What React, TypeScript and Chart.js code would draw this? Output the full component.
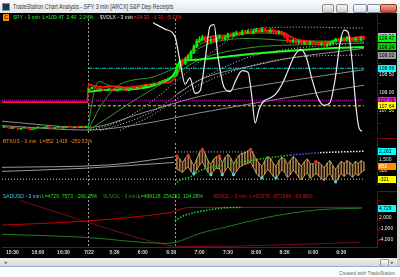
import React, { useEffect, useRef } from 'react';
import { Chart, registerables } from 'chart.js';
Chart.register(...registerables);

const FONT = '"Liberation Sans", Arial, sans-serif';

// ---------- x axis (bar index) ----------
const X_MIN = 0.3;
const X_MAX = 132.6;
const X_TICKS = [4, 13, 22, 31, 40, 50, 60, 70, 80, 90, 100, 110, 120];
const X_LABELS = ['15:30', '16:00', '16:30', '7/22', '5:30', '6:00', '6:30', '7:00', '7:30', '8:00', '8:30', '9:00', '9:30'];
const SESSION_BREAKS = [30.6, 61.3];

// ---------- SPY candles ----------
const PREDAY_START = 1;
const PREDAY_OPEN = [107.05, 107.08, 107.05, 107.02, 107.06, 107.04, 107.0, 107.03, 107.05, 107.02, 106.99, 107.01, 107.04, 107.06, 107.03, 107.05, 107.07, 107.04, 107.02, 107.05, 107.06, 107.03, 107.05, 107.07, 107.06, 107.04, 107.07, 107.05, 107.08, 107.06];
const PREDAY_CLOSE = [107.08, 107.05, 107.02, 107.06, 107.04, 107.0, 107.03, 107.05, 107.02, 106.99, 107.01, 107.04, 107.06, 107.03, 107.05, 107.07, 107.04, 107.02, 107.05, 107.06, 107.03, 107.05, 107.07, 107.06, 107.04, 107.07, 107.05, 107.08, 107.06, 107.07];
const PRE_START = 31;
const PRE_OPEN = [108.02, 108.1, 108.15, 108.12, 108.08, 108.1, 108.05, 108.08, 108.1, 108.06, 108.04, 108.08, 108.1, 108.07, 108.05, 108.09, 108.12, 108.1, 108.14, 108.12, 108.16, 108.2, 108.18, 108.22, 108.26, 108.24, 108.3, 108.33, 108.36, 108.4, 108.43];
const PRE_CLOSE = [108.1, 108.15, 108.12, 108.08, 108.1, 108.05, 108.08, 108.1, 108.06, 108.04, 108.08, 108.1, 108.07, 108.05, 108.09, 108.12, 108.1, 108.14, 108.12, 108.16, 108.2, 108.18, 108.22, 108.26, 108.24, 108.3, 108.33, 108.36, 108.4, 108.43, 108.45];
const RTH_START = 62;
const RTH_OPEN = [108.5, 108.7, 108.86, 108.8, 108.9, 108.95, 109.1, 109.25, 109.4, 109.45, 109.5, 109.42, 109.38, 109.45, 109.4, 109.48, 109.52, 109.45, 109.5, 109.58, 109.55, 109.6, 109.62, 109.58, 109.65, 109.63, 109.66, 109.62, 109.68, 109.7, 109.66, 109.72, 109.68, 109.65, 109.7, 109.66, 109.62, 109.65, 109.6, 109.52, 109.4, 109.38, 109.42, 109.36, 109.38, 109.34, 109.36, 109.33, 109.37, 109.35, 109.32, 109.3, 109.33, 109.28, 109.31, 109.35, 109.4, 109.45, 109.42, 109.48, 109.44, 109.5, 109.46, 109.43, 109.47, 109.44, 109.49];
const RTH_HIGH = [108.78, 108.9, 108.92, 108.95, 109.02, 109.14, 109.3, 109.45, 109.52, 109.56, 109.54, 109.46, 109.49, 109.48, 109.52, 109.57, 109.55, 109.54, 109.62, 109.62, 109.64, 109.67, 109.65, 109.69, 109.68, 109.7, 109.69, 109.72, 109.75, 109.73, 109.77, 109.75, 109.71, 109.74, 109.73, 109.69, 109.68, 109.67, 109.63, 109.55, 109.44, 109.45, 109.45, 109.41, 109.41, 109.39, 109.39, 109.4, 109.4, 109.38, 109.35, 109.36, 109.35, 109.34, 109.38, 109.43, 109.48, 109.48, 109.51, 109.5, 109.53, 109.53, 109.49, 109.5, 109.5, 109.52, 109.53];
const RTH_LOW = [108.45, 108.66, 108.74, 108.76, 108.86, 108.92, 109.06, 109.22, 109.36, 109.41, 109.38, 109.33, 109.35, 109.36, 109.37, 109.45, 109.42, 109.42, 109.47, 109.51, 109.52, 109.57, 109.55, 109.56, 109.6, 109.6, 109.59, 109.6, 109.65, 109.63, 109.64, 109.65, 109.61, 109.62, 109.63, 109.58, 109.59, 109.56, 109.48, 109.36, 109.34, 109.35, 109.33, 109.33, 109.31, 109.31, 109.3, 109.3, 109.32, 109.29, 109.27, 109.27, 109.25, 109.25, 109.28, 109.32, 109.37, 109.39, 109.39, 109.41, 109.41, 109.43, 109.4, 109.4, 109.41, 109.41, 109.44];
const RTH_CLOSE = [108.7, 108.85, 108.8, 108.9, 108.95, 109.1, 109.25, 109.4, 109.45, 109.5, 109.42, 109.38, 109.45, 109.4, 109.48, 109.52, 109.45, 109.5, 109.58, 109.55, 109.6, 109.62, 109.58, 109.65, 109.63, 109.66, 109.62, 109.68, 109.7, 109.66, 109.72, 109.68, 109.65, 109.7, 109.66, 109.62, 109.65, 109.6, 109.52, 109.4, 109.38, 109.42, 109.36, 109.38, 109.34, 109.36, 109.33, 109.37, 109.35, 109.32, 109.3, 109.33, 109.28, 109.31, 109.35, 109.4, 109.45, 109.42, 109.48, 109.44, 109.5, 109.46, 109.43, 109.47, 109.44, 109.49, 109.47];

// ---------- SPY pane indicators ----------
const RED_X = [0.3, 30.4, 30.8, 33, 36, 40, 44, 48, 52, 56, 60, 62, 64, 67, 70, 74, 80, 88, 95, 100, 103, 108, 115, 120, 128];
const RED_Y = [107.74, 107.74, 108.22, 108.18, 108.15, 108.17, 108.14, 108.17, 108.22, 108.25, 108.3, 108.5, 108.8, 109.1, 109.4, 109.52, 109.56, 109.64, 109.68, 109.62, 109.48, 109.4, 109.36, 109.44, 109.53];
const GREEN_X = [31, 36, 42, 48, 52, 56, 59, 61, 63, 66, 70, 80, 90, 100, 110, 120, 128];
const GREEN_Y = [108.02, 108.07, 108.08, 108.1, 108.15, 108.25, 108.35, 108.5, 108.82, 108.88, 108.9, 108.98, 109.06, 109.12, 109.18, 109.22, 109.24];
const DG1_X = [30.6, 32, 33.5, 35, 37, 40, 45, 50, 55, 60, 62, 65, 70, 75, 80, 90, 100, 105, 110, 120, 128];
const DG1_Y = [106.97, 107.7, 108.2, 108.3, 108.22, 108.15, 108.12, 108.15, 108.25, 108.4, 108.6, 108.95, 109.3, 109.45, 109.52, 109.62, 109.58, 109.42, 109.36, 109.42, 109.46];
const DG2_X = [30.6, 34.9, 38.4, 41.9, 47.2, 52.5, 57.8, 62.4, 70.2, 87.8, 105.5, 128];
const DG2_Y = [106.97, 107.6, 107.98, 108.22, 108.35, 108.4, 108.55, 108.72, 109.22, 109.47, 109.4, 109.4];
const DG3_X = [30.6, 38.4, 45.5, 52.5, 57.8, 62.4, 70.2, 87.8, 105.5, 128];
const DG3_Y = [106.97, 107.35, 107.72, 108.05, 108.3, 108.55, 108.9, 109.22, 109.3, 109.35];
const WD1_X = [31.4, 41.9, 52.5, 62.4, 70.2, 80.8, 87.8, 105.5, 128];
const WD1_Y = [106.97, 107.22, 107.72, 108.35, 108.85, 109.45, 109.72, 109.78, 109.75];
const WD2_X = [34.9, 45.5, 56, 62.4, 70.2, 87.8, 105.5, 128];
const WD2_Y = [106.97, 107.22, 107.6, 107.97, 108.35, 108.97, 109.22, 109.35];
const WD3_X = [41.9, 52.5, 62.4, 70.2, 87.8, 105.5, 128];
const WD3_Y = [106.97, 107.35, 107.85, 108.22, 108.72, 108.97, 109.02];
const GR1_X = [0.3, 30.4, 50, 70.2, 100, 128];
const GR1_Y = [107.22, 107.05, 107.45, 107.9, 108.3, 108.62];
const GR2_X = [0.3, 30.4, 50, 70.2, 100, 128];
const GR2_Y = [107.1, 106.98, 107.15, 107.45, 107.85, 108.2];
const GR3_X = [62, 70.2, 90, 103, 128];
const GR3_Y = [107.95, 108.35, 108.75, 108.95, 109.2];
const LEVEL_VALUES = [108.66, 107.79, 107.64];
const LEVEL_FROM = [30.6, 0.3, 30.6];
const LEVEL_TO = 128;
const VDLX_X = [53.6, 57.8, 61.3, 63.1, 64.9, 66.6, 68.4, 70.2, 71.9, 73.7, 75.1, 76.5, 78.6, 80.8, 82.9, 85, 87.1, 88.5, 89.6, 91, 92.7, 94.9, 97, 99.1, 101.2, 103.3, 105.5, 107.6, 109.7, 111.8, 113.9, 116, 117.8, 119.6, 121, 122.4, 123.8, 125.2, 126.3, 127.3];
const VDLX_Y = [25.644, 25.566, 25.476, 25.174, 24.894, 24.972, 24.782, 24.815, 25.174, 25.6, 25.62, 25.23, 24.86, 24.804, 24.95, 25.06, 25.04, 24.726, 24.423, 24.59, 24.69, 24.726, 24.78, 24.894, 25.06, 25.23, 25.32, 25.23, 24.95, 24.726, 24.636, 24.67, 24.95, 25.4, 25.554, 25.53, 25.174, 24.614, 24.356, 24.322];

// ---------- TICK pane ----------
const TICK_START = 62;
const TICK_HI = [1830, 1530, 1230, 1600, 1900, 1380, 1000, 1530, 2130, 2430, 1980, 1380, 1080, 1530, 1750, 1830, 1230, 1680, 1980, 1600, 1150, 1530, 1900, 2050, 2130, 2280, 2430, 1980, 1530, 1150, 930, 1380, 1750, 1600, 1150, 930, 1380, 1680, 1530, 1080, 1380, 1750, 1530, 1150, 930, 1300, 1530, 1150, 1080, 1300, 1230, 1000, 780, 1150, 1380, 930, 630, 1000, 1300, 1150, 1380, 1230, 1000, 1300, 1150, 1380, 1230];
const TICK_LO = [630, 480, 330, 630, 780, 400, 180, 550, 1000, 1230, 780, 330, 100, 480, 700, 630, 100, 480, 780, 480, 100, 400, 780, 930, 1080, 1150, 1230, 780, 250, -50, -200, 180, 550, 330, -50, -200, 180, 550, 330, -120, 100, 480, 250, -120, -350, 30, 250, -200, -50, 180, 30, -270, -420, -50, 180, -270, -570, -200, 180, -50, 250, 100, -120, 180, 30, 330, 480];
const TICK_PEAKS = [62, 66, 71, 77, 88, 111];
const TICK_TROUGHS = [68, 74, 78, 82, 92, 97, 118];
const TICK_LAST = 852;
const TICK_LOW_LEVEL = -321;
const TICK_HIGH_LEVEL = 2200;
const TGA_X = [0.3, 38, 61];
const TGA_Y = [777, 1000, 1750];
const TGB_X = [0.3, 30, 61];
const TGB_Y = [402, 700, 1227];
const TREND_X = [62, 64, 66.6, 70.2, 79, 88.9, 102, 112.5, 128];
const TREND_Y = [-600, -300, -120, 480, 1000, 1450, 1900, 2130, 2261];

// ---------- breadth pane ----------
const SAD_X = [0.3, 30, 57.8, 61.3, 70.2, 80.8, 91.3, 102, 112.5, 127.3];
const SAD_Y = [-2600, -3500, -5170, -4910, -2350, -300, 1740, 3280, 4300, 4729];
const SDV_X = [0.3, 30, 57.8, 61.3, 65, 70, 127.3];
const SDV_Y = [-50, 1100, 3280, 3790, 4820, 4940, 4940];
const MAR_X = [6.65, 20.8, 57.1, 61.3, 70, 94.9, 126.6];
const MAR_Y = [6860, 3280, -5420, -5940, -6060, -5680, -4910];
const GDOT_X = [61.3, 62.4, 64.9, 70.2, 79, 85];
const GDOT_Y = [1230, 1740, 2770, 3790, 4820, 4940];

const last = (a: number[]) => a[a.length - 1];
const pts = (xs: number[], ys: number[]) => xs.map((x, k) => ({ x, y: ys[k] }));

type Marker = { value: number; label: string; bg: string; fg: string };

function overlay(markers: Marker[], opts: { bottomAxis?: boolean; topSep?: boolean }) {
  return {
    id: 'overlay',
    beforeDatasetsDraw(chart: any) {
      const { ctx, chartArea: a, scales } = chart;
      ctx.save();
      ctx.strokeStyle = '#9a9a9a';
      ctx.lineWidth = 1;
      ctx.setLineDash([2, 2]);
      SESSION_BREAKS.forEach((b) => {
        const x = Math.round(scales.x.getPixelForValue(b)) + 0.5;
        ctx.beginPath();
        ctx.moveTo(x, a.top);
        ctx.lineTo(x, a.bottom);
        ctx.stroke();
      });
      ctx.restore();
    },
    afterDraw(chart: any) {
      const { ctx, chartArea: a, scales, width } = chart;
      ctx.save();
      ctx.strokeStyle = '#8a0000';
      ctx.lineWidth = 1;
      const rx = Math.round(a.right) + 0.5;
      ctx.beginPath();
      ctx.moveTo(rx, 0);
      ctx.lineTo(rx, a.bottom + (opts.bottomAxis ? 1 : 0));
      ctx.stroke();
      for (let y = a.top + 4; y < a.bottom; y += 10) {
        const yy = Math.round(y) + 0.5;
        ctx.beginPath();
        ctx.moveTo(rx, yy);
        ctx.lineTo(rx + 3, yy);
        ctx.stroke();
      }
      if (opts.topSep) {
        ctx.beginPath();
        ctx.moveTo(rx, 0.5);
        ctx.lineTo(width, 0.5);
        ctx.stroke();
      }
      if (opts.bottomAxis) {
        ctx.strokeStyle = '#a00000';
        const by = Math.round(a.bottom) + 0.5;
        ctx.beginPath();
        ctx.moveTo(0, by);
        ctx.lineTo(rx, by);
        ctx.stroke();
      }
      ctx.font = `5px ${FONT}`;
      ctx.textBaseline = 'middle';
      ctx.textAlign = 'left';
      markers.forEach((m) => {
        const y = scales.y.getPixelForValue(m.value);
        ctx.fillStyle = m.bg;
        ctx.fillRect(a.right + 1, Math.round(y - 3.5), 18, 7);
        ctx.fillStyle = m.fg;
        ctx.fillText(m.label, a.right + 2, y + 0.5);
      });
      ctx.restore();
    },
  };
}

function xScale(showLabels: boolean) {
  return {
    type: 'linear',
    min: X_MIN,
    max: X_MAX,
    offset: false,
    grid: { display: false, drawTicks: false },
    border: { display: false },
    afterBuildTicks: (s: any) => {
      s.ticks = X_TICKS.map((v) => ({ value: v }));
    },
    afterFit: (s: any) => {
      s.height = showLabels ? 10 : 0;
    },
    ticks: {
      display: showLabels,
      color: '#d8d8d8',
      font: { size: 5, family: FONT, weight: 'bold' },
      padding: 3,
      maxRotation: 0,
      autoSkip: false,
      callback: (v: number) => {
        const k = X_TICKS.indexOf(v);
        return k >= 0 ? X_LABELS[k] : '';
      },
    },
  };
}

function yScale(min: number, max: number, ticks: number[], fmt: (v: number) => string) {
  return {
    type: 'linear',
    position: 'right',
    min,
    max,
    grid: { display: false, drawTicks: false },
    border: { display: false },
    afterBuildTicks: (s: any) => {
      s.ticks = ticks.map((v) => ({ value: v }));
    },
    afterFit: (s: any) => {
      s.width = 20;
    },
    ticks: { color: '#e8e8e8', font: { size: 5, family: FONT }, padding: 2, callback: fmt },
  };
}

const line = (data: any[], color: string, extra: any = {}) => ({
  type: 'line',
  data,
  borderColor: color,
  borderWidth: 1,
  pointRadius: 0,
  cubicInterpolationMode: 'monotone',
  ...extra,
});

const dots = (data: any[], color: string, order = 0) => ({
  type: 'line',
  data,
  showLine: false,
  pointRadius: 1.6,
  pointBorderWidth: 0,
  pointBackgroundColor: color,
  order,
});

const baseOptions = (scales: any) => ({
  responsive: false,
  animation: false,
  devicePixelRatio: 1,
  events: [],
  layout: { padding: 0, autoPadding: false },
  plugins: { legend: { display: false }, tooltip: { enabled: false } },
  scales,
});

function buildSpy(canvas: HTMLCanvasElement) {
  const bodies: any[] = [];
  const wicks: any[] = [];
  PREDAY_OPEN.forEach((o, k) => bodies.push({ x: PREDAY_START + k, y: [o, PREDAY_CLOSE[k]], up: PREDAY_CLOSE[k] >= o }));
  PRE_OPEN.forEach((o, k) => bodies.push({ x: PRE_START + k, y: [o, PRE_CLOSE[k]], up: PRE_CLOSE[k] >= o }));
  RTH_OPEN.forEach((o, k) => {
    const up = RTH_CLOSE[k] >= o;
    bodies.push({ x: RTH_START + k, y: [o, RTH_CLOSE[k]], up });
    wicks.push({ x: RTH_START + k, y: [RTH_LOW[k], RTH_HIGH[k]], up });
  });
  const candleColor = (ctx: any) => (ctx.raw && ctx.raw.up ? '#00f000' : '#ff1010');
  const levelColors = ['#00d8d8', '#c000c0', '#e8e800'];
  const levelDash = [[4, 1, 1, 1], [1, 1], [3, 2]];
  const levels = LEVEL_VALUES.map((v, k) =>
    line([{ x: LEVEL_FROM[k], y: v }, { x: LEVEL_TO, y: v }], levelColors[k], { borderDash: levelDash[k], order: 20 })
  );
  const markers: Marker[] = [
    { value: last(RED_Y), label: last(RED_Y).toFixed(2), bg: '#b8c8dc', fg: '#000' },
    { value: last(RTH_CLOSE), label: last(RTH_CLOSE).toFixed(2), bg: '#00ff00', fg: '#000' },
    { value: last(GREEN_Y), label: last(GREEN_Y).toFixed(2), bg: '#00d000', fg: '#000' },
    { value: last(WD3_Y), label: last(WD3_Y).toFixed(2), bg: '#9a9a9a', fg: '#000' },
    { value: LEVEL_VALUES[0], label: LEVEL_VALUES[0].toFixed(2), bg: '#00ffff', fg: '#000' },
    { value: LEVEL_VALUES[1], label: LEVEL_VALUES[1].toFixed(2), bg: '#ff00ff', fg: '#000' },
    { value: LEVEL_VALUES[2], label: LEVEL_VALUES[2].toFixed(2), bg: '#ffff00', fg: '#000' },
  ];
  return new Chart(canvas, {
    type: 'line',
    data: {
      datasets: [
        line(pts(VDLX_X, VDLX_Y), '#ececec', { yAxisID: 'yv', order: 1, borderWidth: 1.2 }),
        { type: 'bar', data: bodies, backgroundColor: candleColor, barThickness: 2, minBarLength: 1, grouped: false, order: 2 },
        { type: 'bar', data: wicks, backgroundColor: candleColor, barThickness: 1, minBarLength: 1, grouped: false, order: 3 },
        line(pts(RED_X, RED_Y), '#ff1a1a', { order: 4, borderWidth: 1.6 }),
        line(pts(GREEN_X, GREEN_Y), '#22ff22', { order: 5, borderWidth: 2 }),
        line(pts(DG1_X, DG1_Y), '#2f9a2f', { order: 6 }),
        line(pts(DG2_X, DG2_Y), '#2f9a2f', { order: 6 }),
        line(pts(DG3_X, DG3_Y), '#2f9a2f', { order: 6 }),
        line(pts(WD1_X, WD1_Y), '#d0d0d0', { borderDash: [1, 2], order: 7 }),
        line(pts(WD2_X, WD2_Y), '#d0d0d0', { borderDash: [1, 2], order: 7 }),
        line(pts(WD3_X, WD3_Y), '#d0d0d0', { borderDash: [1, 2], order: 7 }),
        line(pts(GR1_X, GR1_Y), '#8c8c8c', { order: 8 }),
        line(pts(GR2_X, GR2_Y), '#8c8c8c', { order: 8 }),
        line(pts(GR3_X, GR3_Y), '#8c8c8c', { order: 8 }),
        ...levels,
      ],
    },
    options: baseOptions({
      x: xScale(false),
      y: yScale(106.9, 110.0, [107.5, 108, 108.5, 109, 109.5], (v) => Number(v).toFixed(2)),
      yv: { type: 'linear', display: false, min: 24.3, max: 25.689 },
    }),
    plugins: [overlay(markers, {})],
  } as any);
}

function buildTick(canvas: HTMLCanvasElement) {
  const hatch = TICK_HI.map((h, k) => ({ x: TICK_START + k, y: [TICK_LO[k], h] }));
  const fmt = (v: number) => Number(v).toLocaleString('en-US');
  const markers: Marker[] = [
    { value: last(TREND_Y), label: fmt(last(TREND_Y)), bg: '#00ffff', fg: '#000' },
    { value: TICK_LAST, label: fmt(TICK_LAST), bg: '#ff8c00', fg: '#fff' },
    { value: TICK_LOW_LEVEL, label: fmt(TICK_LOW_LEVEL), bg: '#ffff00', fg: '#000' },
  ];
  const trendColor = (ctx: any) => {
    const x = ctx.p0.parsed.x;
    if (x >= 100 && x < 109) return '#3a5cff';
    if (x >= 109 && x < 119) return '#f0f0f0';
    return '#10d010';
  };
  return new Chart(canvas, {
    type: 'line',
    data: {
      datasets: [
        dots(TICK_PEAKS.map((i) => ({ x: i, y: TICK_HI[i - TICK_START] })), '#ff2020', 1),
        dots(TICK_TROUGHS.map((i) => ({ x: i, y: TICK_LO[i - TICK_START] })), '#30e0f0', 1),
        line(pts(TREND_X, TREND_Y), '#10d010', { borderDash: [1.5, 1.5], borderWidth: 1.5, segment: { borderColor: trendColor }, order: 2 }),
        line(TICK_HI.map((h, k) => ({ x: TICK_START + k, y: h })), '#d6a464', { order: 3, cubicInterpolationMode: 'default', tension: 0.3 }),
        line(TICK_LO.map((l, k) => ({ x: TICK_START + k, y: l })), '#d6a464', { order: 3, cubicInterpolationMode: 'default', tension: 0.3 }),
        { type: 'bar', data: hatch, backgroundColor: '#a87c48', barThickness: 1, grouped: false, order: 4 },
        line([{ x: X_MIN, y: TICK_LOW_LEVEL }, { x: 128, y: TICK_LOW_LEVEL }], '#d0d0d0', { borderDash: [1, 2], order: 5 }),
        line([{ x: 61.3, y: TICK_HIGH_LEVEL }, { x: 90, y: TICK_HIGH_LEVEL }], '#d0d0d0', { borderDash: [1, 2], order: 5 }),
        line(pts(TGA_X, TGA_Y), '#9a9a9a', { order: 6 }),
        line(pts(TGB_X, TGB_Y), '#9a9a9a', { order: 6 }),
      ],
    },
    options: baseOptions({
      x: xScale(false),
      y: yScale(-948, 3027, [500, 1500], fmt),
    }),
    plugins: [overlay(markers, { topSep: true })],
  } as any);
}

function buildBreadth(canvas: HTMLCanvasElement) {
  const fmt = (v: number) => Number(v).toLocaleString('en-US');
  const markers: Marker[] = [{ value: last(SAD_Y), label: fmt(last(SAD_Y)), bg: '#00ffff', fg: '#000' }];
  return new Chart(canvas, {
    type: 'line',
    data: {
      datasets: [
        line(pts(GDOT_X, GDOT_Y), '#20e020', { borderDash: [1.5, 1.5], borderWidth: 1.5, order: 1 }),
        line(pts(SDV_X, SDV_Y), '#c80000', { order: 2 }),
        line(pts(SAD_X, SAD_Y), '#237a23', { order: 3 }),
        line(pts(MAR_X, MAR_Y), '#7a0a1a', { order: 4 }),
      ],
    },
    options: baseOptions({
      x: xScale(true),
      y: yScale(-6192, 8144, [-4000, -1000, 2000, 5000], fmt),
    }),
    plugins: [overlay(markers, { topSep: true, bottomAxis: true })],
  } as any);
}

const Txt = ({ x, y, color, size = 6, sx = 0.84, children }: any) => (
  <div
    style={{
      position: 'absolute',
      left: x,
      top: y,
      color,
      fontSize: size,
      lineHeight: `${size + 1}px`,
      whiteSpace: 'pre',
      transform: `scaleX(${sx})`,
      transformOrigin: 'left top',
    }}
  >
    {children}
  </div>
);

const Btn = ({ x, w, bg, border }: any) => (
  <div
    style={{
      position: 'absolute',
      left: x,
      top: 4,
      width: w,
      height: 7,
      background: bg,
      border: `1px solid ${border}`,
      borderRadius: 2,
    }}
  />
);

export default function App() {
  const c1 = useRef<HTMLCanvasElement>(null);
  const c2 = useRef<HTMLCanvasElement>(null);
  const c3 = useRef<HTMLCanvasElement>(null);

  useEffect(() => {
    Chart.defaults.font.family = FONT;
    const charts = [buildSpy(c1.current!), buildTick(c2.current!), buildBreadth(c3.current!)];
    return () => charts.forEach((c) => c.destroy());
  }, []);

  return (
    <div style={{ position: 'absolute', left: 0, top: 0, width: 400, height: 277, background: '#fff', overflow: 'hidden', fontFamily: FONT }}>
      {/* title bar */}
      <div style={{ position: 'absolute', left: 0, top: 0, width: 400, height: 13, background: 'linear-gradient(#fbfcfd, #dfe5ec)' }} />
      <div style={{ position: 'absolute', left: 2, top: 3, width: 6, height: 6, background: '#23344c', border: '1px solid #7d8ea6' }} />
      <Txt x={13} y={3} color="#3a3a3a" size={6.5} sx={0.82}>TradeStation Chart Analysis - SPY 3 min [ARCX] S&amp;P Dep Receipts</Txt>
      <Btn x={322} w={10} bg="linear-gradient(#f6f6f6,#cdcdcd)" border="#8c8c8c" />
      <Btn x={336} w={10} bg="linear-gradient(#f6f6f6,#cdcdcd)" border="#8c8c8c" />
      <Btn x={353} w={12} bg="linear-gradient(#ffffff,#d5dde8)" border="#7e8ca0" />
      <Btn x={367} w={12} bg="linear-gradient(#ffffff,#d5dde8)" border="#7e8ca0" />
      <Btn x={380} w={15} bg="linear-gradient(#eeb0a0,#c8442c)" border="#8a3424" />

      {/* chart window */}
      <div style={{ position: 'absolute', left: 0, top: 13, width: 397, height: 245, background: '#000' }} />
      <div style={{ position: 'absolute', left: 397, top: 13, width: 3, height: 254, background: '#c9d2dc' }} />
      <div style={{ position: 'absolute', left: 2, top: 14 }}>
        <canvas ref={c1} width={395} height={124} style={{ display: 'block' }} />
      </div>
      <div style={{ position: 'absolute', left: 2, top: 138 }}>
        <canvas ref={c2} width={395} height={53} style={{ display: 'block' }} />
      </div>
      <div style={{ position: 'absolute', left: 2, top: 191 }}>
        <canvas ref={c3} width={395} height={66} style={{ display: 'block' }} />
      </div>

      {/* legends */}
      <div style={{ position: 'absolute', left: 3, top: 14, width: 6, height: 7, background: '#ff8a00', color: '#000', fontSize: 5, lineHeight: '7px', textAlign: 'center' }}>C</div>
      <Txt x={13} y={14} color="#1eff1e">SPY - 3 min  L=109.47  2.40  2.24%</Txt>
      <Txt x={100} y={14} color="#e6e6e6">$VDLX - 3 min</Txt>
      <Txt x={131} y={14} color="#ff2a2a">L=24.33  -1.31  -5.11%</Txt>
      <Txt x={3} y={138} color="#f08a20">BTKUS - 3 min  L=852  1418  -250.53%</Txt>
      <Txt x={3} y={193} color="#40c8ff">SADUSD - 3 min</Txt>
      <Txt x={42} y={193} color="#20e020">L=4729  7573  -266.28%</Txt>
      <Txt x={103} y={193} color="#2e8f2e">SUVOL - 3 min</Txt>
      <Txt x={138} y={193} color="#20e020">L=498128  254252  104.28%</Txt>
      <Txt x={213} y={193} color="#e01010">SDVOL - 3 min</Txt>
      <Txt x={250} y={193} color="#e01010">L=51579  -871649  -94.98%</Txt>

      {/* scrollbar + footer */}
      <div style={{ position: 'absolute', left: 0, top: 258, width: 397, height: 8, background: 'linear-gradient(#eeeeee,#dadada)' }} />
      <Txt x={4} y={259} color="#555" size={5} sx={1}>◂</Txt>
      <div style={{ position: 'absolute', left: 380, top: 259, width: 7, height: 6, background: 'linear-gradient(#fafafa,#cfcfcf)', border: '1px solid #9a9a9a', borderRadius: 1 }} />
      <Txt x={391} y={259} color="#555" size={5} sx={1}>▸</Txt>
      <div style={{ position: 'absolute', left: 0, top: 266, width: 400, height: 1, background: '#8fb2d6' }} />
      <Txt x={339} y={270} color="#666" size={5.5} sx={0.88}>Created with TradeStation</Txt>
    </div>
  );
}
